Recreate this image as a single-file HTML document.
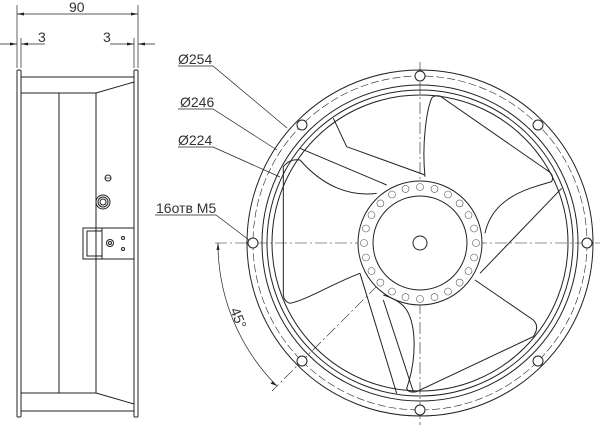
<!DOCTYPE html>
<html><head><meta charset="utf-8"><style>
html,body{margin:0;padding:0;background:#fff;width:600px;height:425px;overflow:hidden}
svg{display:block}
text{font-family:"Liberation Sans",sans-serif;fill:#333}
</style></head><body>
<svg width="600" height="425" viewBox="0 0 600 425" xmlns="http://www.w3.org/2000/svg" fill="none" stroke="#222" stroke-width="1">
<g stroke-width="1">
<rect x="17" y="70" width="4" height="347" rx="1"/>
<rect x="134" y="70" width="4" height="347" rx="1"/>
<line x1="21" y1="77" x2="134" y2="77"/>
<path d="M21 93 L96 93 L134 82"/>
<line x1="21" y1="411" x2="134" y2="411"/>
<path d="M21 393 L96 393 L134 404"/>
<line x1="59" y1="93" x2="59" y2="393"/>
<line x1="96" y1="93" x2="96" y2="393"/>
<rect x="83" y="228" width="51" height="31"/>
<rect x="87" y="231" width="15" height="25"/>
<line x1="102" y1="228" x2="102" y2="259"/>
<circle cx="110" cy="243" r="3.5"/>
<circle cx="110" cy="243" r="1.5"/>
<circle cx="123" cy="238" r="1.5"/>
<circle cx="123" cy="249" r="1.5"/>
<circle cx="103" cy="202" r="7"/>
<circle cx="103" cy="202" r="5"/>
<circle cx="103" cy="202" r="3"/>
<circle cx="108" cy="178" r="3"/>
<line x1="105.5" y1="178" x2="110.5" y2="178" stroke-width="0.7"/>
</g>
<g stroke-width="0.7">
<line x1="17" y1="5" x2="17" y2="68"/>
<line x1="138" y1="5" x2="138" y2="68"/>
<line x1="21" y1="38" x2="21" y2="68"/>
<line x1="134" y1="38" x2="134" y2="68"/>
<line x1="17" y1="14" x2="138" y2="14"/>
<line x1="0" y1="44" x2="17" y2="44"/>
<line x1="21" y1="44" x2="45" y2="44"/>
<line x1="110" y1="44" x2="134" y2="44"/>
<line x1="138" y1="44" x2="155" y2="44"/>
</g>
<g fill="#222" stroke="none">
<path d="M17 14 l7 -1.5 v3z"/><path d="M138 14 l-7 -1.5 v3z"/>
<path d="M17 44 l-7 -1.5 v3z"/><path d="M21 44 l7 -1.5 v3z"/>
<path d="M134 44 l-7 -1.5 v3z"/><path d="M138 44 l7 -1.5 v3z"/>
</g>
<text x="69" y="12" font-size="14" stroke="none">90</text>
<text x="38" y="42" font-size="14" stroke="none">3</text>
<text x="103" y="42" font-size="14" stroke="none">3</text>
<text x="178" y="64" font-size="14" stroke="none">Ø254</text>
<text x="180" y="107" font-size="14" stroke="none">Ø246</text>
<text x="178" y="145" font-size="14" stroke="none">Ø224</text>
<text x="156" y="213" font-size="14" stroke="none">16отв M5</text>
<g stroke-width="0.7">
<path d="M178 66 L213 66 L287 128"/>
<path d="M178 109 L213 109 L277 150"/>
<path d="M178 147 L213 147 L280 177"/>
<path d="M155 215 L216 215 L249 240"/>
</g>
<g stroke-width="0.6" stroke-dasharray="12 3 2 3">
<line x1="215" y1="243" x2="600" y2="243"/>
<line x1="420" y1="62" x2="420" y2="425"/>
<line x1="420" y1="243" x2="272" y2="391"/>
</g>
<circle cx="420" cy="243" r="167" stroke-width="0.6" stroke-dasharray="8 3"/>
<circle cx="420" cy="243" r="173"/>
<circle cx="420" cy="243" r="158"/>
<circle cx="420" cy="243" r="153"/>
<circle cx="420" cy="243" r="148"/>
<g fill="#fff">
<circle cx="420" cy="76" r="5"/><circle cx="420" cy="410" r="5"/>
<circle cx="253" cy="243" r="5"/><circle cx="587" cy="243" r="5"/>
<circle cx="302" cy="125" r="5"/><circle cx="538" cy="125" r="5"/>
<circle cx="302" cy="361" r="5"/><circle cx="538" cy="361" r="5"/>
</g>
<g transform="translate(240,60) scale(0.3333)" stroke-width="3">
<path d="M280 175 L320 260 L555 345"/>
<line x1="180" y1="265" x2="440" y2="375"/>
<path d="M555 350 C545 250 560 150 575 115 Q580 105 600 108 L920 330 Q945 345 935 365 Q900 375 870 385 C800 410 750 450 735 520"/>
<line x1="965" y1="385" x2="720" y2="640"/>
<path d="M705 660 L880 780 Q900 800 880 830 L530 995 Q505 1000 500 985 C530 900 530 800 500 750 Q480 720 430 705"/>
<line x1="360" y1="640" x2="470" y2="1000"/>
<line x1="430" y1="720" x2="520" y2="995"/>
<path d="M360 640 C280 670 200 720 150 730 Q130 725 130 700 L130 320 Q150 295 180 300 C250 380 330 410 410 400"/>
</g>
<circle cx="420" cy="243" r="62" fill="#fff"/>
<circle cx="420" cy="243" r="47"/>
<circle cx="420" cy="243" r="7"/>
<g stroke-width="0.6" stroke="#555">
<circle cx="476" cy="243" r="3.5"/><circle cx="474.1" cy="257.5" r="3.5"/><circle cx="468.5" cy="271" r="3.5"/><circle cx="459.6" cy="282.6" r="3.5"/><circle cx="448" cy="291.5" r="3.5"/><circle cx="434.5" cy="297.1" r="3.5"/><circle cx="420" cy="299" r="3.5"/><circle cx="405.5" cy="297.1" r="3.5"/><circle cx="392" cy="291.5" r="3.5"/><circle cx="380.4" cy="282.6" r="3.5"/><circle cx="371.5" cy="271" r="3.5"/><circle cx="365.9" cy="257.5" r="3.5"/><circle cx="364" cy="243" r="3.5"/><circle cx="365.9" cy="228.5" r="3.5"/><circle cx="371.5" cy="215" r="3.5"/><circle cx="380.4" cy="203.4" r="3.5"/><circle cx="392" cy="194.5" r="3.5"/><circle cx="405.5" cy="188.9" r="3.5"/><circle cx="420" cy="187" r="3.5"/><circle cx="434.5" cy="188.9" r="3.5"/><circle cx="448" cy="194.5" r="3.5"/><circle cx="459.6" cy="203.4" r="3.5"/><circle cx="468.5" cy="215" r="3.5"/><circle cx="474.1" cy="228.5" r="3.5"/>
</g>
<path d="M218 243 A202 202 0 0 0 277 386" stroke-width="0.7"/>
<g fill="#222" stroke="none">
<path d="M218 243 l-1.5 7 h3z"/>
<path d="M277 386 l-6.5 -2.5 l2.2 -2.2z"/>
</g>
<text x="0" y="0" font-size="14" stroke="none" transform="translate(230,310) rotate(68)">45°</text>
</svg>
</body></html>
